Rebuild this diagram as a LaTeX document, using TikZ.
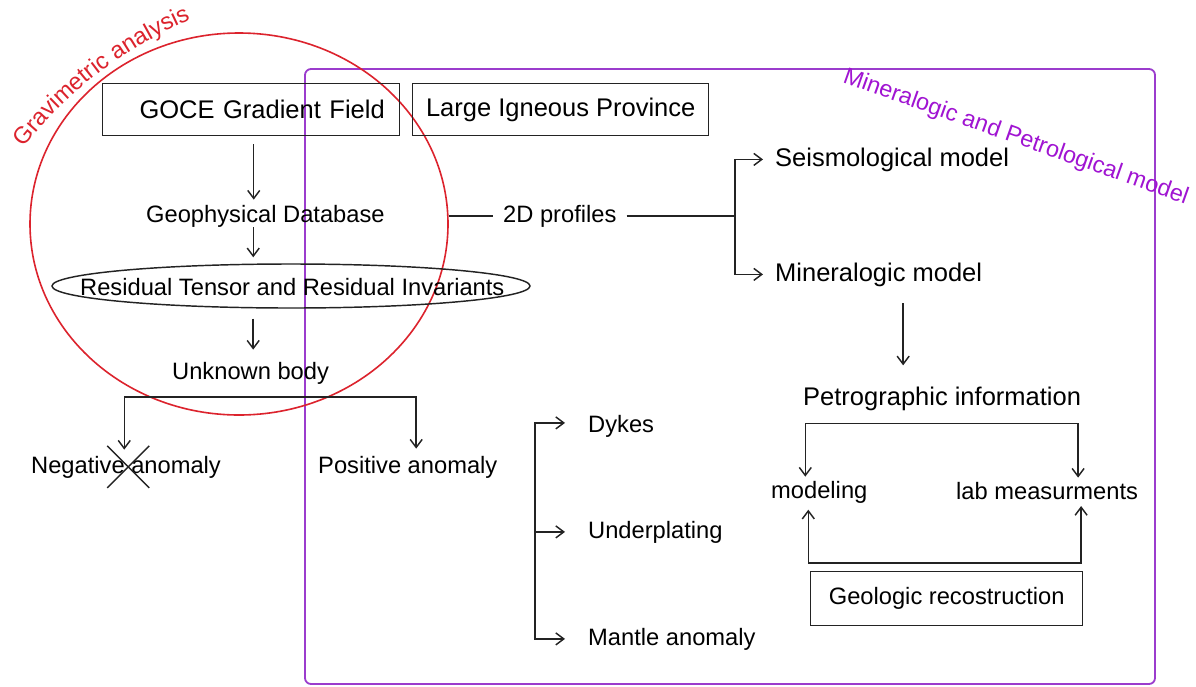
\documentclass[tikz,border=0pt]{standalone}
\usepackage{fontspec}
\setmainfont{Liberation Sans}
\usetikzlibrary{arrows.meta,shapes.geometric,decorations.text}
\definecolor{linegray}{RGB}{35,35,35}
\definecolor{gravred}{RGB}{220,35,45}
\definecolor{purpline}{RGB}{155,60,205}
\definecolor{purptext}{RGB}{160,20,210}
\tikzset{
  conn/.style={draw=linegray, line width=1.45pt},
  arr/.style={conn, -{Straight Barb[length=8pt,width=12pt]}},
  darr/.style={conn, {Straight Barb[length=8pt,width=12pt]}-{Straight Barb[length=8pt,width=12pt]}},
  lbl/.style={inner sep=0pt, anchor=base west, text=black, font=\fontsize{23.7}{28}\selectfont},
  big/.style={inner sep=0pt, anchor=base west, text=black, font=\fontsize{25.5}{30}\selectfont},
  boxst/.style={draw=linegray, line width=1.45pt, text=black, font=\fontsize{25.5}{30}\selectfont},
  smallbox/.style={draw=linegray, line width=1.45pt, text=black, font=\fontsize{23.7}{28}\selectfont}
}
\begin{document}
\begin{tikzpicture}[x=1pt,y=-1pt]
\useasboundingbox[fill=white] (0,0) rectangle (1196,686);

% purple region
\draw[purpline, line width=1.8pt, rounded corners=6pt] (305,69) rectangle (1155,684);
\node[font=\fontsize{23.4}{28}\selectfont, text=purptext, rotate=-19.6, anchor=base west, inner sep=0pt] (mplabel) at (842,82) {Mineralogic and Petrological model};

% red region
\node[draw=gravred, line width=1.6pt, ellipse, minimum width=418pt, minimum height=382pt, inner sep=0pt] (grav) at (239,224) {};
\path[decorate, decoration={text along path, text align=left, text color=gravred,
  text={|\fontsize{23.6}{28}\selectfont|Gravimetric analysis}}]
  (360,415) ++(218.5:430) arc[start angle=218.5, end angle=247, radius=430];

% boxes
\node[boxst, anchor=north west, text width=267pt, align=right, inner xsep=15pt, minimum height=52pt] (goce) at (102,83) {GOCE Gradient Field};
\node[boxst, anchor=north west, minimum width=296pt, minimum height=52pt] (lip) at (412,83) {Large Igneous Province};
\node[smallbox, anchor=north west, minimum width=272pt, minimum height=54pt] (geol) at (810,571) {Geologic recostruction};

% ellipse
\node[conn, ellipse, minimum width=478pt, minimum height=44pt, inner sep=0pt] (res) at (291,286) {};
\node[lbl] (restxt) at (80,295) {Residual Tensor and Residual Invariants};

% text nodes
\node[lbl] (geo) at (146,222) {Geophysical Database};
\node[lbl] (unk) at (172,379) {Unknown body};
\node[lbl] (neg) at (31,473) {Negative anomaly};
\node[lbl] (pos) at (318,473) {Positive anomaly};
\node[lbl] (prof) at (503,222) {2D profiles};
\node[big] (seis) at (775,166) {Seismological model};
\node[big] (minm) at (775,281) {Mineralogic model};
\node[big] (pet) at (803,405) {Petrographic information};
\node[lbl] (mod) at (771,498) {modeling};
\node[lbl] (lab) at (956,499) {lab measurments};
\node[lbl] (dyk) at (588,432) {Dykes};
\node[lbl] (und) at (588,538) {Underplating};
\node[lbl] (man) at (588,645) {Mantle anomaly};

% connectors, left column
\draw[arr, shorten <=8pt, shorten >=5pt] ([xshift=2.5pt]goce.south) -- ([xshift=2.5pt]goce.south |- geo.north);
\draw[arr, shorten >=6pt] ([xshift=-12.2pt]geo.south) -- ([xshift=-12.2pt]geo.south |- res.north);
\draw[arr, shorten <=10pt, shorten >=12pt] ([xshift=2.6pt]unk.north |- res.south) -- ([xshift=2.6pt]unk.north);
\draw[darr] ([xshift=-1.8pt,yshift=6pt]neg.north) |- ([yshift=-13pt]unk.south) -| ([xshift=8.4pt,yshift=7pt]pos.north);
\draw[conn] ([xshift=2.2pt]neg.center) ++(-21,-21) -- ++(42,42);
\draw[conn] ([xshift=2.2pt]neg.center) ++(-21,21) -- ++(42,-42);

% 2D profiles
\draw[conn] (grav.east |- prof.west) -- ([xshift=-10pt]prof.west);
\draw[conn] ([xshift=10pt]prof.east) -- ([xshift=-40pt]seis.west |- prof.east);
\draw[darr] ([xshift=-12pt]seis.west) -| ([xshift=-40pt]minm.west) -- ([xshift=-12pt]minm.west);

% right column
\draw[arr, shorten <=17pt, shorten >=21pt] ([xshift=24.5pt]minm.south) -- ([xshift=24.5pt]minm.south |- pet.north);
\draw[darr] ([xshift=-14pt,yshift=4pt]mod.north) |- ([yshift=-13pt]pet.south) -| ([xshift=31pt,yshift=4pt]lab.north);
\draw[darr] ([xshift=-11pt,yshift=-6.6pt]mod.south) |- ([yshift=8pt]geol.north) -| ([xshift=34pt,yshift=-6.6pt]lab.south);

% dykes branch
\draw[darr] ([xshift=-23pt,yshift=3pt]dyk.west) -| ([xshift=-53pt]man.west) -- ([xshift=-23pt]man.west);
\draw[arr] ([xshift=-53pt]und.west) -- ([xshift=-23pt]und.west);
\end{tikzpicture}
\end{document}
